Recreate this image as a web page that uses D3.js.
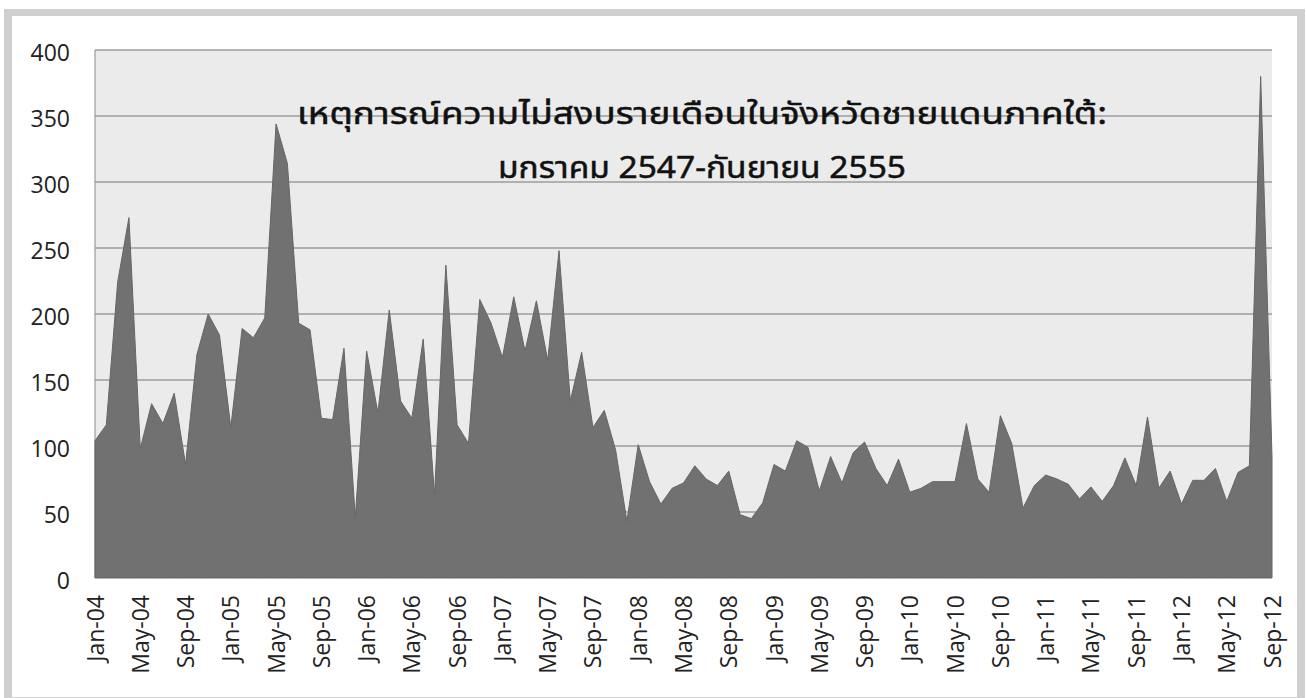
<!DOCTYPE html>
<html>
<head>
<meta charset="utf-8">
<script src="https://cdn.jsdelivr.net/npm/d3@7"></script>
<style>
  html, body { margin: 0; padding: 0; background: #ffffff; }
  svg { display: block; }
</style>
</head>
<body>
<svg id="chart" width="1306" height="698"></svg>
<script>
// ---- data ----
const titleLines = [
  "เหตุการณ์ความไม่สงบรายเดือนในจังหวัดชายแดนภาคใต้:",
  "มกราคม 2547-กันยายน 2555"
];
const startMonth = "2004-01";
const endMonth = "2012-09";
const incidents = [
  104, 116, 224, 273, 98, 132, 117, 140, 86, 169, 200, 184,   // 2004
  114, 189, 182, 197, 344, 314, 193, 188, 121, 120, 174, 46,  // 2005
  172, 125, 203, 134, 121, 181, 63, 237, 116, 102, 211, 193,  // 2006
  167, 213, 172, 210, 165, 248, 134, 171, 114, 127, 97, 43,   // 2007
  101, 73, 56, 68, 72, 85, 75, 70, 81, 48, 45, 57,            // 2008
  86, 81, 104, 99, 66, 92, 72, 95, 103, 83, 70, 90,           // 2009
  65, 68, 73, 73, 73, 117, 75, 65, 123, 102, 53, 70,          // 2010
  78, 75, 71, 60, 69, 58, 70, 91, 70, 122, 68, 81,            // 2011
  56, 74, 74, 83, 58, 80, 85, 380, 92                         // 2012
];
const xTickLabels = [
  "Jan-04","May-04","Sep-04","Jan-05","May-05","Sep-05","Jan-06","May-06","Sep-06",
  "Jan-07","May-07","Sep-07","Jan-08","May-08","Sep-08","Jan-09","May-09","Sep-09",
  "Jan-10","May-10","Sep-10","Jan-11","May-11","Sep-11","Jan-12","May-12","Sep-12"
];
const yTickValues = [0, 50, 100, 150, 200, 250, 300, 350, 400];

// ---- categories (month labels) ----
const fmt = d3.timeFormat("%b-%y");
const parse = d3.timeParse("%Y-%m");
const months = d3.timeMonths(parse(startMonth), d3.timeMonth.offset(parse(endMonth), 1));
const categories = months.map(fmt);
const data = categories.map((c, i) => ({ cat: c, value: incidents[i] }));

// ---- layout ----
const svg = d3.select("#chart");
const W = 1306, H = 698;
const plot = { left: 95, right: 1272, top: 50, bottom: 578 };

// outer frame
svg.append("rect").attr("x", 0).attr("y", 0).attr("width", W).attr("height", H).attr("fill", "#ffffff");
svg.append("rect").attr("x", 4).attr("y", 9).attr("width", 1301).attr("height", 700).attr("fill", "#cfcfcf");
svg.append("rect").attr("x", 12).attr("y", 16).attr("width", 1285).attr("height", 681).attr("fill", "#ffffff");

const x = d3.scalePoint().domain(categories).range([plot.left, plot.right]);
const y = d3.scaleLinear().domain([0, 400]).range([plot.bottom, plot.top]);

// plot background
svg.append("rect")
  .attr("x", plot.left).attr("y", plot.top)
  .attr("width", plot.right - plot.left).attr("height", plot.bottom - plot.top)
  .attr("fill", "#ebebeb");

// gridlines
svg.append("g")
  .selectAll("line")
  .data(yTickValues.filter(v => v > 0))
  .join("line")
  .attr("x1", plot.left).attr("x2", plot.right)
  .attr("y1", d => y(d)).attr("y2", d => y(d))
  .attr("stroke", "#9c9c9c").attr("stroke-width", 1.6);

// left border of plot
svg.append("line")
  .attr("x1", plot.left).attr("x2", plot.left)
  .attr("y1", plot.top).attr("y2", plot.bottom)
  .attr("stroke", "#9c9c9c").attr("stroke-width", 1.2);

// title
const titleWidths = [810, 408];
const title = svg.append("text")
  .attr("text-anchor", "middle")
  .attr("font-family", "'Noto Sans Thai', 'Noto Sans', 'DejaVu Sans', sans-serif")
  .attr("font-size", 30)
  .attr("fill", "#111")
  .attr("stroke", "#111")
  .attr("stroke-width", 0.5);
title.append("tspan").attr("x", 702).attr("y", 124)
  .attr("textLength", titleWidths[0]).attr("lengthAdjust", "spacingAndGlyphs")
  .text(titleLines[0]);
title.append("tspan").attr("x", 702).attr("y", 178)
  .attr("textLength", titleWidths[1]).attr("lengthAdjust", "spacingAndGlyphs")
  .text(titleLines[1]);

// area
const area = d3.area()
  .x(d => x(d.cat))
  .y0(y(0))
  .y1(d => y(d.value));
svg.append("path")
  .datum(data)
  .attr("d", area)
  .attr("fill", "#717171")
  .attr("stroke", "#666666")
  .attr("stroke-width", 1);

// y axis labels
const yAxis = d3.axisLeft(y).tickValues(yTickValues).tickSize(0).tickPadding(0);
const gy = svg.append("g").attr("transform", `translate(70,3)`).call(yAxis);
gy.select(".domain").remove();
gy.selectAll("text")
  .attr("font-family", "'Open Sans', sans-serif")
  .attr("font-size", 23)
  .attr("fill", "#222");

// x axis labels
const xAxis = d3.axisBottom(x).tickValues(xTickLabels).tickSize(0).tickPadding(0);
const gx = svg.append("g").attr("transform", `translate(0,${plot.bottom})`).call(xAxis);
gx.select(".domain").remove();
gx.selectAll("text")
  .attr("font-family", "'Open Sans', sans-serif")
  .attr("font-size", 23)
  .attr("fill", "#222")
  .attr("text-anchor", "end")
  .attr("dy", null)
  .attr("y", 0)
  .attr("transform", "translate(8,17) rotate(-90)");
</script>
</body>
</html>
